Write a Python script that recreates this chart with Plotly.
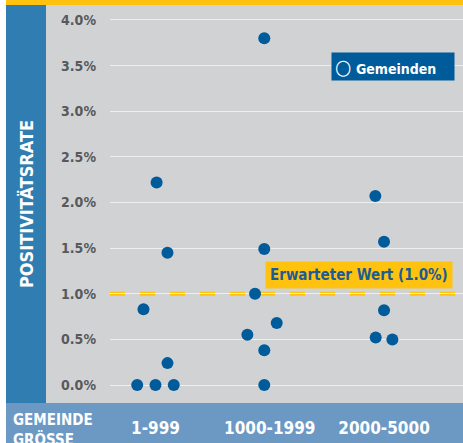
import plotly.graph_objects as go

# ---- data ----
categories = ["1-999", "1000-1999", "2000-5000"]
cat_index = [0, 0, 0, 0, 0, 0, 0,
             1, 1, 1, 1, 1, 1, 1,
             2, 2, 2, 2, 2]
positivity = [2.22, 1.45, 0.83, 0.24, 0.0, 0.0, 0.0,
              3.80, 1.49, 1.00, 0.68, 0.55, 0.38, 0.0,
              2.07, 1.57, 0.82, 0.52, 0.50]
jitter = [0.01, 0.105, -0.105, 0.105, -0.16, 0.0, 0.16,
          -0.048, -0.048, -0.129, 0.061, -0.196, -0.048, -0.048,
          -0.076, 0.0, 0.0, -0.073, 0.073]
expected_value = 1.0
y_ticks = [0.0, 0.5, 1.0, 1.5, 2.0, 2.5, 3.0, 3.5, 4.0]
y_tick_labels = ["0.0%", "0.5%", "1.0%", "1.5%", "2.0%", "2.5%", "3.0%", "3.5%", "4.0%"]

# ---- style ----
FONT = "DejaVu Sans Condensed"
GRAY = "#D1D2D4"
YELLOW = "#FFC20E"
STRIP = "#2F7DB1"
BAND = "#6B99C4"
DOT = "#005B9A"
TXT_BLUE = "#1B5C94"

W, H = 463, 443
ML, MR, MT, MB = 110, 0, 5, 40
PW, PH = W - ML - MR, H - MT - MB


def px_x(px):
    return (px - ML) / PW


def px_y(py):
    return (H - MB - py) / PH


x_vals = [c + j for c, j in zip(cat_index, jitter)]

fig = go.Figure()
fig.add_trace(go.Scatter(
    x=x_vals, y=positivity, mode="markers",
    marker=dict(size=12, color=DOT, line=dict(width=0)),
    name="Gemeinden", showlegend=False, hoverinfo="y",
))

shapes = [
    # white left edge
    dict(type="rect", xref="paper", yref="paper", x0=px_x(0), x1=px_x(6), y0=px_y(H), y1=px_y(0),
         fillcolor="white", line_width=0, layer="below"),
    # yellow top band
    dict(type="rect", xref="paper", yref="paper", x0=px_x(6), x1=px_x(W), y0=px_y(5), y1=px_y(0),
         fillcolor=YELLOW, line_width=0, layer="below"),
    # blue strip for y title
    dict(type="rect", xref="paper", yref="paper", x0=px_x(6), x1=px_x(46), y0=0, y1=1,
         fillcolor=STRIP, line_width=0, layer="below"),
    # bottom band
    dict(type="rect", xref="paper", yref="paper", x0=px_x(6), x1=px_x(W), y0=px_y(H), y1=0,
         fillcolor=BAND, line_width=0, layer="below"),
    # expected value line
    dict(type="line", xref="paper", yref="y", x0=0, x1=1, y0=expected_value, y1=expected_value,
         line=dict(color=YELLOW, width=4, dash="15px,15px"), layer="below"),
]

annotations = [
    dict(text="Erwarteter Wert (1.0%)", xref="paper", yref="y", x=px_x(453), y=1.21,
         xanchor="right", yanchor="middle", showarrow=False,
         font=dict(family=FONT, size=15, color=TXT_BLUE, weight="bold"),
         bgcolor=YELLOW, borderpad=4),
    dict(text="<span style='font-size:21px'>○</span> Gemeinden", xref="paper", yref="y",
         x=px_x(455), y=3.49, xanchor="right", yanchor="middle", showarrow=False,
         width=116, height=21, align="left", valign="middle",
         font=dict(family=FONT, size=14, color="white", weight="bold"),
         bgcolor=DOT, borderpad=3),
    dict(text="GEMEINDE<br>GRÖSSE", xref="paper", yref="paper", x=px_x(11), y=px_y(409),
         xanchor="left", yanchor="top", align="left", showarrow=False,
         font=dict(family=FONT, size=15, color="white", weight="bold")),
]

fig.update_layout(
    width=W, height=H,
    margin=dict(l=ML, r=MR, t=MT, b=MB),
    paper_bgcolor=GRAY, plot_bgcolor=GRAY,
    shapes=shapes, annotations=annotations,
    showlegend=False,
    xaxis=dict(
        range=[-0.398, 2.691], tickvals=[0, 1, 2], ticktext=categories,
        showgrid=False, zeroline=False, showline=False, ticks="",
        tickfont=dict(family=FONT, size=17, color="white", weight="bold"),
        ticklabelstandoff=13,
    ),
    yaxis=dict(
        range=[-0.197, 4.164], tickvals=y_ticks, ticktext=y_tick_labels,
        showgrid=True, gridcolor="#EEEEEE", gridwidth=1.2, zeroline=False, showline=False,
        ticks="", tickfont=dict(family=FONT, size=14, color="#58595B", weight="bold"),
        ticklabelstandoff=13,
        title=dict(text="POSITIVITÄTSRATE", standoff=22,
                   font=dict(family=FONT, size=18, color="white", weight="bold")),
    ),
)

fig.write_html("out.html", config={"displayModeBar": False},
               post_script="document.body.style.margin='0';document.body.style.overflow='hidden';")
